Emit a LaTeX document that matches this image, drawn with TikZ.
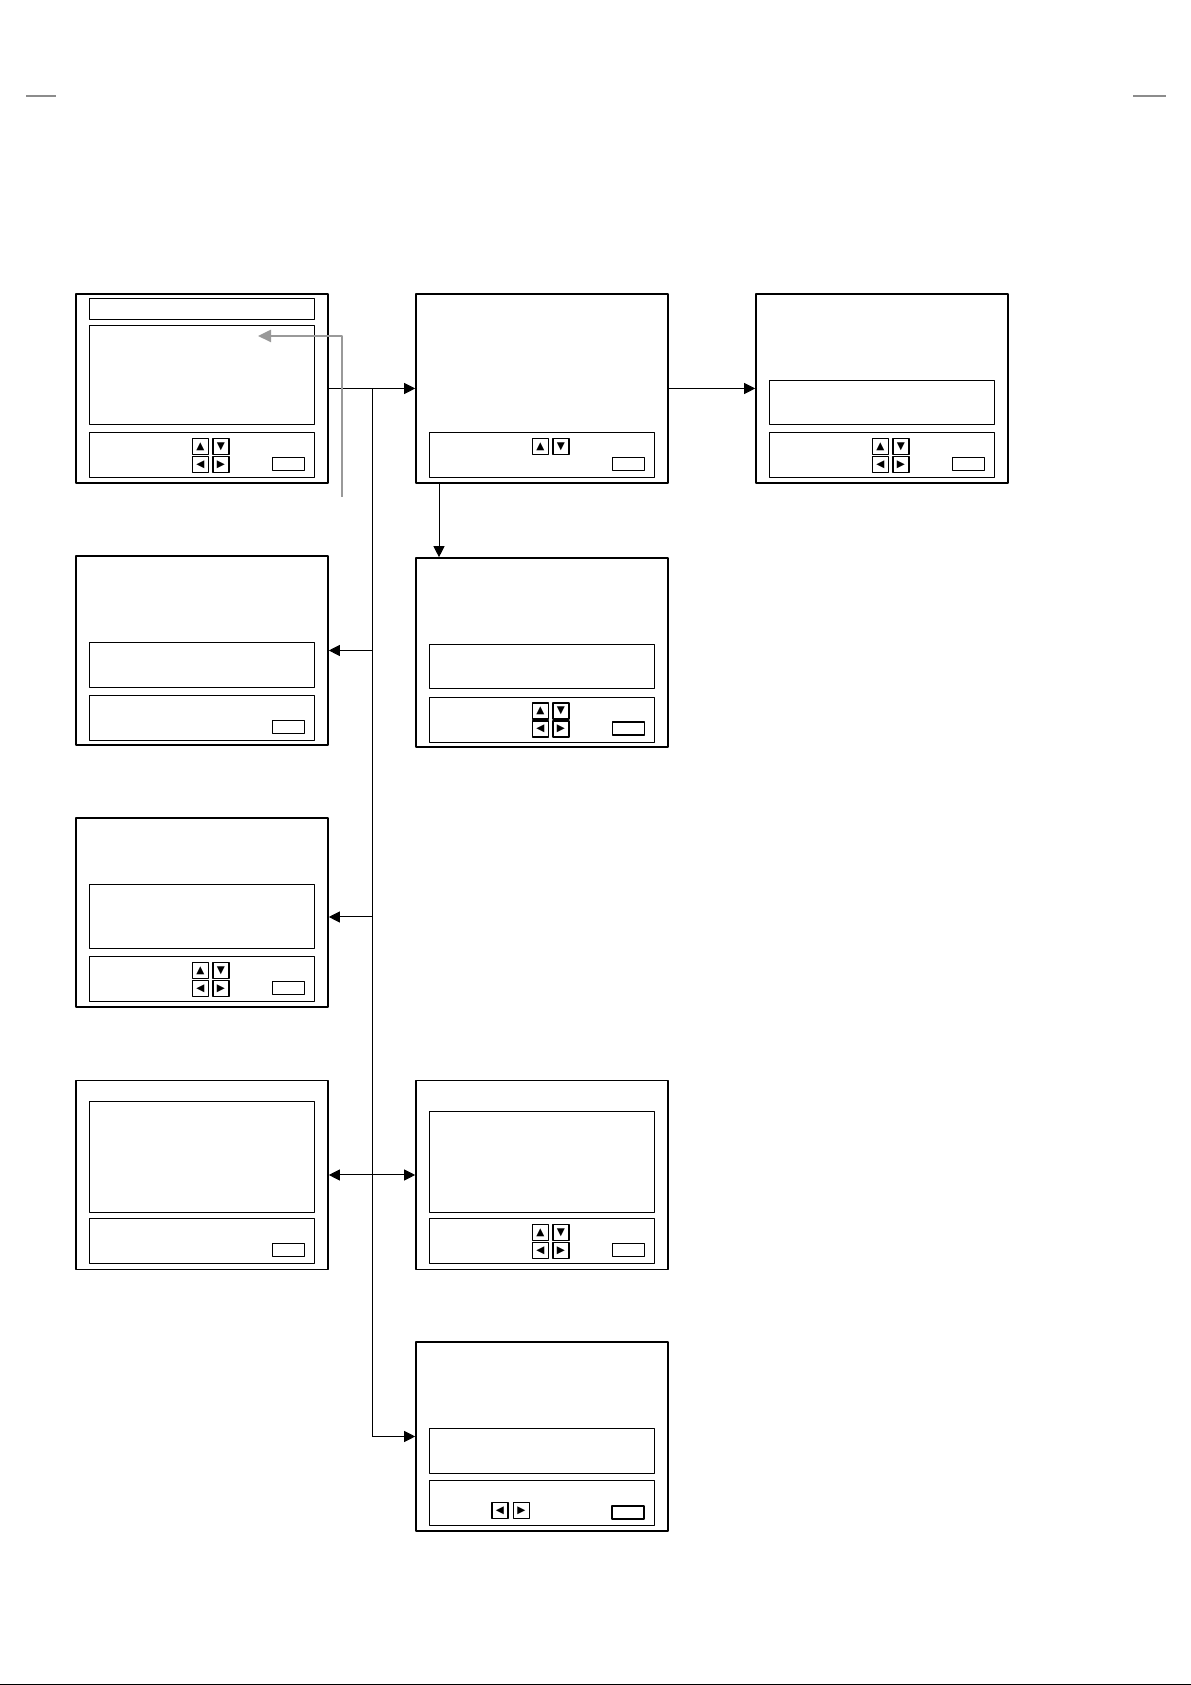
\documentclass[tikz,border=0pt]{standalone}
\usepackage{fontspec}
\newfontfamily\symfont{DejaVu Sans}
\usetikzlibrary{arrows.meta}

\begin{document}
\begin{tikzpicture}[>={Triangle[length=11bp,width=11bp]},line join=bevel,
  screen/.style={draw=black,rectangle,line width=1.6bp,minimum width=252bp,minimum height=189bp,inner sep=0pt},
  panel/.style={draw=black,rectangle,line width=1bp,minimum width=225bp,inner sep=0pt},
  keybox/.style={draw=black,rectangle,line width=1.2bp,minimum size=16bp,inner sep=0pt,font=\symfont\fontsize{10.5}{10.5}\selectfont},
  okbox/.style={draw=black,rectangle,line width=1.6bp,minimum width=32bp,minimum height=13bp,inner sep=0pt},
  conn/.style={draw=black,line width=1bp},
  back/.style={draw=black!40,line width=2.4bp,>={Triangle[length=13bp,width=12bp]}},
  cropline/.style={draw=black!45,line width=1.2bp}]
\useasboundingbox (0bp,0bp) rectangle (1191bp,1685bp);
%%
\node (scr1) at (202bp,1296.5bp) [screen] {};
  \node (scr1_title) at (202bp,1375.5bp) [panel,minimum height=21bp] {};
  \node (scr1_view) at (202bp,1309.5bp) [panel,minimum height=99bp] {};
  \node (scr1_bar) at (202bp,1229.5bp) [panel,minimum height=45bp] {};
  \node (scr1_up) at (200.5bp,1238.5bp) [keybox] {▲};
  \node (scr1_dn) at (221bp,1238.5bp) [keybox] {▼};
  \node (scr1_lt) at (200.5bp,1220.5bp) [keybox] {◀};
  \node (scr1_rt) at (221bp,1220.5bp) [keybox] {▶};
  \node (scr1_ok) at (288.5bp,1221bp) [okbox] {};
\node (scr2) at (542bp,1296.5bp) [screen] {};
  \node (scr2_bar) at (542bp,1229.5bp) [panel,minimum height=45bp] {};
  \node (scr2_up) at (540.5bp,1238.5bp) [keybox] {▲};
  \node (scr2_dn) at (561bp,1238.5bp) [keybox] {▼};
  \node (scr2_ok) at (628.5bp,1221bp) [okbox] {};
\node (scr3) at (882bp,1296.5bp) [screen] {};
  \node (scr3_msg) at (882bp,1282bp) [panel,minimum height=44bp] {};
  \node (scr3_bar) at (882bp,1229.5bp) [panel,minimum height=45bp] {};
  \node (scr3_up) at (880.5bp,1238.5bp) [keybox] {▲};
  \node (scr3_dn) at (901bp,1238.5bp) [keybox] {▼};
  \node (scr3_lt) at (880.5bp,1220.5bp) [keybox] {◀};
  \node (scr3_rt) at (901bp,1220.5bp) [keybox] {▶};
  \node (scr3_ok) at (968.5bp,1221bp) [okbox] {};
\node (scr4) at (542bp,1032.5bp) [screen] {};
  \node (scr4_msg) at (542bp,1018bp) [panel,minimum height=44bp] {};
  \node (scr4_bar) at (542bp,965bp) [panel,minimum height=45bp] {};
  \node (scr4_up) at (540.5bp,974bp) [keybox] {▲};
  \node (scr4_dn) at (561bp,974bp) [keybox] {▼};
  \node (scr4_lt) at (540.5bp,956bp) [keybox] {◀};
  \node (scr4_rt) at (561bp,956bp) [keybox] {▶};
  \node (scr4_ok) at (628.5bp,956.5bp) [okbox] {};
\node (scr5) at (202bp,1034.5bp) [screen] {};
  \node (scr5_msg) at (202bp,1019.5bp) [panel,minimum height=45bp] {};
  \node (scr5_bar) at (202bp,966.5bp) [panel,minimum height=45bp] {};
  \node (scr5_ok) at (288.5bp,958bp) [okbox] {};
\node (scr6) at (202bp,772.5bp) [screen] {};
  \node (scr6_msg) at (202bp,768bp) [panel,minimum height=64bp] {};
  \node (scr6_bar) at (202bp,705.5bp) [panel,minimum height=45bp] {};
  \node (scr6_up) at (200.5bp,714.5bp) [keybox] {▲};
  \node (scr6_dn) at (221bp,714.5bp) [keybox] {▼};
  \node (scr6_lt) at (200.5bp,696.5bp) [keybox] {◀};
  \node (scr6_rt) at (221bp,696.5bp) [keybox] {▶};
  \node (scr6_ok) at (288.5bp,697bp) [okbox] {};
\node (scr7) at (202bp,510bp) [screen] {};
  \node (scr7_view) at (202bp,527.5bp) [panel,minimum height=111bp] {};
  \node (scr7_bar) at (202bp,443.5bp) [panel,minimum height=45bp] {};
  \node (scr7_ok) at (288.5bp,435bp) [okbox] {};
\node (scr8) at (542bp,510bp) [screen] {};
  \node (scr8_view) at (542bp,522.5bp) [panel,minimum height=101bp] {};
  \node (scr8_bar) at (542bp,443.5bp) [panel,minimum height=45bp] {};
  \node (scr8_up) at (540.5bp,452.5bp) [keybox] {▲};
  \node (scr8_dn) at (561bp,452.5bp) [keybox] {▼};
  \node (scr8_lt) at (540.5bp,434.5bp) [keybox] {◀};
  \node (scr8_rt) at (561bp,434.5bp) [keybox] {▶};
  \node (scr8_ok) at (628.5bp,435bp) [okbox] {};
\node (scr9) at (542bp,248.5bp) [screen] {};
  \node (scr9_msg) at (542bp,233.5bp) [panel,minimum height=45bp] {};
  \node (scr9_bar) at (542bp,181.5bp) [panel,minimum height=45bp] {};
  \node (scr9_lt) at (500bp,174.5bp) [keybox] {◀};
  \node (scr9_rt) at (521.5bp,174.5bp) [keybox] {▶};
  \node (scr9_ok) at (628bp,172.5bp) [okbox] {};
%%
  \coordinate (jn_top) at (372bp,1296.5bp);
  \coordinate (jn_bot) at (372bp,248.5bp);
  \coordinate (jn5) at (372bp,1034.5bp);
  \coordinate (jn6) at (372bp,768bp);
  \coordinate (dn_top) at (439bp,1201bp);
  \coordinate (bk_tail) at (342bp,1188bp);
  \coordinate (bk_bend) at (342bp,1349bp);
  \coordinate (bk_tip) at (258bp,1349bp);
  \draw [->,conn] (scr1) -- (scr2);
  \draw [->,conn] (scr2) -- (scr3);
  \draw [->,conn] (dn_top) -- (dn_top |- scr4.north);
  \draw [conn] (jn_top) -- (jn_bot);
  \draw [->,conn] (jn_bot) -- (scr9);
  \draw [->,conn] (jn5) -- (scr5);
  \draw [->,conn] (jn6) -- (jn6 -| scr6.east);
  \draw [<->,conn] (scr7) -- (scr8);
  \draw [->,back] (bk_tail) -- (bk_bend) -- (bk_tip);
%
  \draw [cropline] (26bp,1589bp) -- (56bp,1589bp);
  \draw [cropline] (1133bp,1589bp) -- (1166bp,1589bp);
  \draw [black,line width=1.2bp] (0bp,0.8bp) -- (1191bp,0.8bp);
%
\end{tikzpicture}
\end{document}
